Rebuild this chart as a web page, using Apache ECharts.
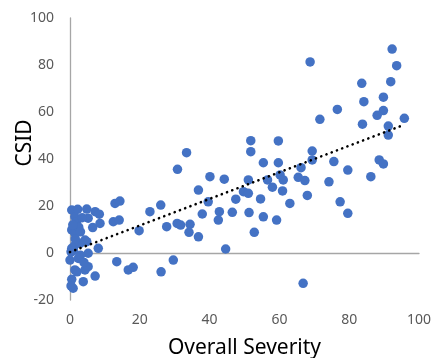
<!DOCTYPE html>
<html>
<head>
<meta charset="utf-8">
<script src="https://cdn.jsdelivr.net/npm/echarts@6/dist/echarts.min.js"></script>
<style>
  html, body { margin: 0; padding: 0; background: #fff; }
  #chart { width: 438px; height: 358px; }
</style>
</head>
<body>
<div id="chart"></div>
<script>
// severity (x) and CSID (y) values
let severity = [
  0.5, 2.2, 4.8, 7.2, 8.4, 12.9, 14.3, 1.4, 1.9, 5.2, 0.5, 1.4, 6.5, 8.6, 12.4, 14.1,
  4.3, 4.8, 8.1, 0.5, 1.4, 2.9, 0.0, 2.4, 5.2, 1.4, 4.3, 5.2, 13.4, 16.7, 18.1, 7.2,
  0.5, 3.8, 0.9, 0.3, 1.0, 3.0, 2.0, 0.3, 2.5, 3.5, 1.5, 4.0, 0.8, 3.0,
  19.8, 22.9, 26.0, 27.7, 26.1, 29.6, 30.8, 33.4, 30.7, 31.7, 34.4, 34.1, 36.8, 37.9,
  36.8, 40.1, 39.6, 42.8, 42.5, 44.2, 46.5, 47.5, 44.6,
  49.7, 51.1, 51.1, 51.8, 51.8, 51.3, 52.8, 54.6, 55.4, 55.4, 56.6, 58.0, 59.2, 59.7,
  59.7, 60.2, 61.1, 60.9, 63.0, 65.4, 66.2, 67.3, 68.0, 66.8, 69.4, 69.4, 71.6, 76.6,
  74.2, 75.6, 77.4, 79.6, 79.6, 68.8,
  92.3, 93.6, 83.6, 91.9, 84.2, 89.8, 89.8, 88.0, 83.8, 95.8, 91.2, 91.2, 88.6, 89.8, 86.2
];
let csid = [
  18.3, 18.6, 18.7, 17.6, 16.5, 21.1, 22.1, 15.4, 13.3, 14.8, 9.8, 8.4, 10.8, 12.6, 13.3, 14.0,
  5.5, 4.8, 2.0, 2.0, 3.4, 4.1, -3.0, -2.3, -0.1, -7.2, -7.2, -5.8, -3.7, -7.2, -6.1, -9.8,
  -11.2, -12.2, -15.0, 0.5, 1.0, -1.0, -8.0, -14.0, 11.0, 15.0, 6.0, -4.0, 12.0, 9.0,
  9.5, 17.6, 20.4, 11.2, -8.0, -3.0, 35.6, 42.7, 12.6, 11.9, 12.2, 8.8, 26.8, 16.6,
  6.9, 32.5, 21.8, 17.6, 14.0, 31.4, 17.3, 22.9, 1.7,
  26.1, 25.4, 31.1, 47.8, 43.1, 17.2, 8.8, 23.0, 38.4, 15.4, 31.1, 28.0, 14.0, 47.7,
  38.4, 33.2, 31.1, 26.4, 21.1, 32.2, 36.3, 30.8, 24.5, -12.9, 43.4, 39.6, 56.9, 61.1,
  30.3, 38.9, 21.8, 35.3, 16.9, 81.3,
  86.8, 79.7, 72.2, 72.9, 64.4, 66.3, 60.6, 58.6, 54.8, 57.3, 54.0, 50.2, 39.6, 37.9, 32.5
];
// linear trendline end points
let trendX = [0, 95.8];
let trendY = [0.4, 54.6];

let xTicks = [0, 20, 40, 60, 80, 100];
let yTicks = [-20, 0, 20, 40, 60, 80, 100];

let points = severity.map((v, i) => [v, csid[i]]);
let trend = trendX.map((v, i) => [v, trendY[i]]);

let chart = echarts.init(document.getElementById('chart'));
let labelStyle = { color: '#595959', fontSize: 14, fontFamily: 'Noto Sans' };
let axisLine = { show: true, lineStyle: { color: '#A6A6A6', width: 1.3 } };

chart.setOption({
  animation: false,
  grid: { left: 70, right: 19, top: 18, bottom: 58, containLabel: false, outerBoundsMode: 'none' },
  xAxis: {
    type: 'value',
    min: xTicks[0], max: xTicks[xTicks.length - 1], interval: 20,
    axisLine: axisLine,
    axisTick: { show: false },
    splitLine: { show: false },
    axisLabel: Object.assign({ margin: 13 }, labelStyle),
    name: 'Overall Severity',
    nameLocation: 'middle',
    nameGap: 38,
    nameTextStyle: { color: '#000', fontSize: 21, fontFamily: 'Noto Sans' }
  },
  yAxis: {
    type: 'value',
    min: yTicks[0], max: yTicks[yTicks.length - 1], interval: 20,
    axisLine: axisLine,
    axisTick: { show: false },
    splitLine: { show: false },
    axisLabel: Object.assign({ margin: 16 }, labelStyle)
  },
  graphic: [{
    type: 'text',
    x: 25, y: 143,
    rotation: Math.PI / 2,
    style: {
      text: 'CSID',
      fill: '#000',
      font: '21px "Noto Sans"',
      align: 'center',
      verticalAlign: 'middle'
    }
  }],
  series: [{
    type: 'scatter',
    data: points,
    symbolSize: 9.5,
    itemStyle: { color: '#4472C4', opacity: 1 },
    z: 2
  }, {
    type: 'line',
    data: trend,
    symbol: 'none',
    lineStyle: { color: '#000', width: 2.6, type: [0.1, 5.5], cap: 'round' },
    z: 3
  }]
});
</script>
</body>
</html>
